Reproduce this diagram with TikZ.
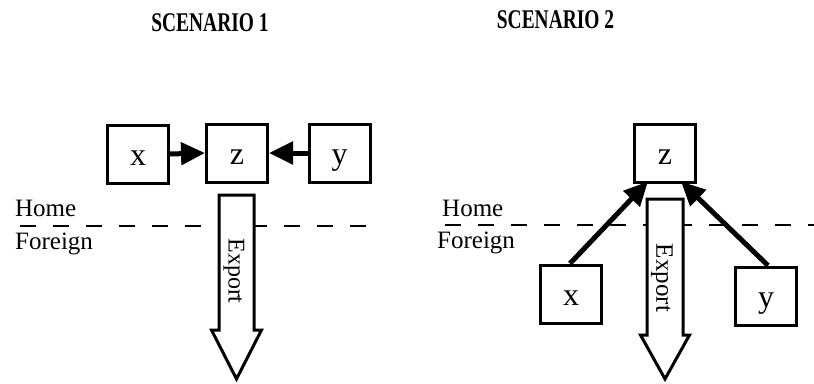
\documentclass[tikz,border=0pt]{standalone}
\usepackage{fontspec}
\setmainfont{Liberation Serif}
\usetikzlibrary{arrows.meta}
\newcommand{\boxfont}{\fontsize{32}{34}\selectfont}
\newcommand{\labfont}{\fontsize{25}{28}\selectfont}
\newcommand{\ttlfont}{\fontsize{27}{30}\selectfont\bfseries}
\tikzset{
  boxnode/.style={draw, line width=3pt, minimum width=61pt, minimum height=58pt, inner sep=0pt,
    text height=22pt, text depth=0pt, font=\boxfont},
  flow/.style={line width=5pt, -{Triangle[length=24pt,width=22pt]}},
  border/.style={line width=1.2pt, dash pattern=on 16pt off 17pt},
  exportarrow/.style={draw, fill=white, line width=3pt, line join=miter},
  lab/.style={font=\labfont, inner sep=0pt, anchor=base west},
  ttl/.style={font=\ttlfont, inner sep=0pt}
}
\begin{document}
\begin{tikzpicture}[x=1pt,y=-1pt]
\useasboundingbox (0,0) rectangle (814,383);
% titles
\node[ttl] (t1) at (210,23) {\scalebox{0.72}[1]{SCENARIO 1}};
\node[ttl] (t2) at (555.5,20) {\scalebox{0.72}[1]{SCENARIO 2}};

% ---------- Scenario 1 ----------
\coordinate (d1a) at (20,226);
\coordinate (d1b) at (370,226);
\draw[border] (d1a) -- (d1b);
\node[lab] (h1) at (15,216) {Home};
\node[lab] (f1) at (15,249) {Foreign};

\node[boxnode] (x1) at (138,154) {x};
\node[boxnode] (z1) at (237,153) {z};
\node[boxnode] (y1) at (339.5,153) {y};
\draw[flow] (x1.east) -- (z1.west);
\draw[flow] (y1.west) -- (z1.east);

\draw[exportarrow] (219,195) -- (254,195) -- (254,330) -- (261.5,330) -- (236.5,379)
  -- (211.5,330) -- (219,330) -- cycle;
\node[font=\fontsize{24}{26}\selectfont, rotate=-90, inner sep=0pt] (e1) at (234,271) {Export};

% ---------- Scenario 2 ----------
\coordinate (d2a) at (445,225);
\coordinate (d2b) at (814,225);
\draw[border] (d2a) -- (d2b);
\node[lab] (h2) at (442,216) {Home};
\node[lab] (f2) at (437,248) {Foreign};

\node[boxnode] (z2) at (665,153) {z};
\node[boxnode] (x2) at (571,294) {x};
\node[boxnode] (y2) at (766,296) {y};

\draw[exportarrow] (647,199) -- (683,199) -- (683,335) -- (689.5,335) -- (665,379)
  -- (640.5,335) -- (647,335) -- cycle;
\node[font=\fontsize{25}{27}\selectfont, rotate=-90, inner sep=0pt] (e2) at (662,278) {Export};

\draw[flow] ([xshift=-1pt]x2.north) -- ([xshift=15pt,yshift=2pt]z2.south west);
\draw[flow] ([xshift=2pt]y2.north) -- ([xshift=-16pt,yshift=2pt]z2.south east);
\end{tikzpicture}
\end{document}
